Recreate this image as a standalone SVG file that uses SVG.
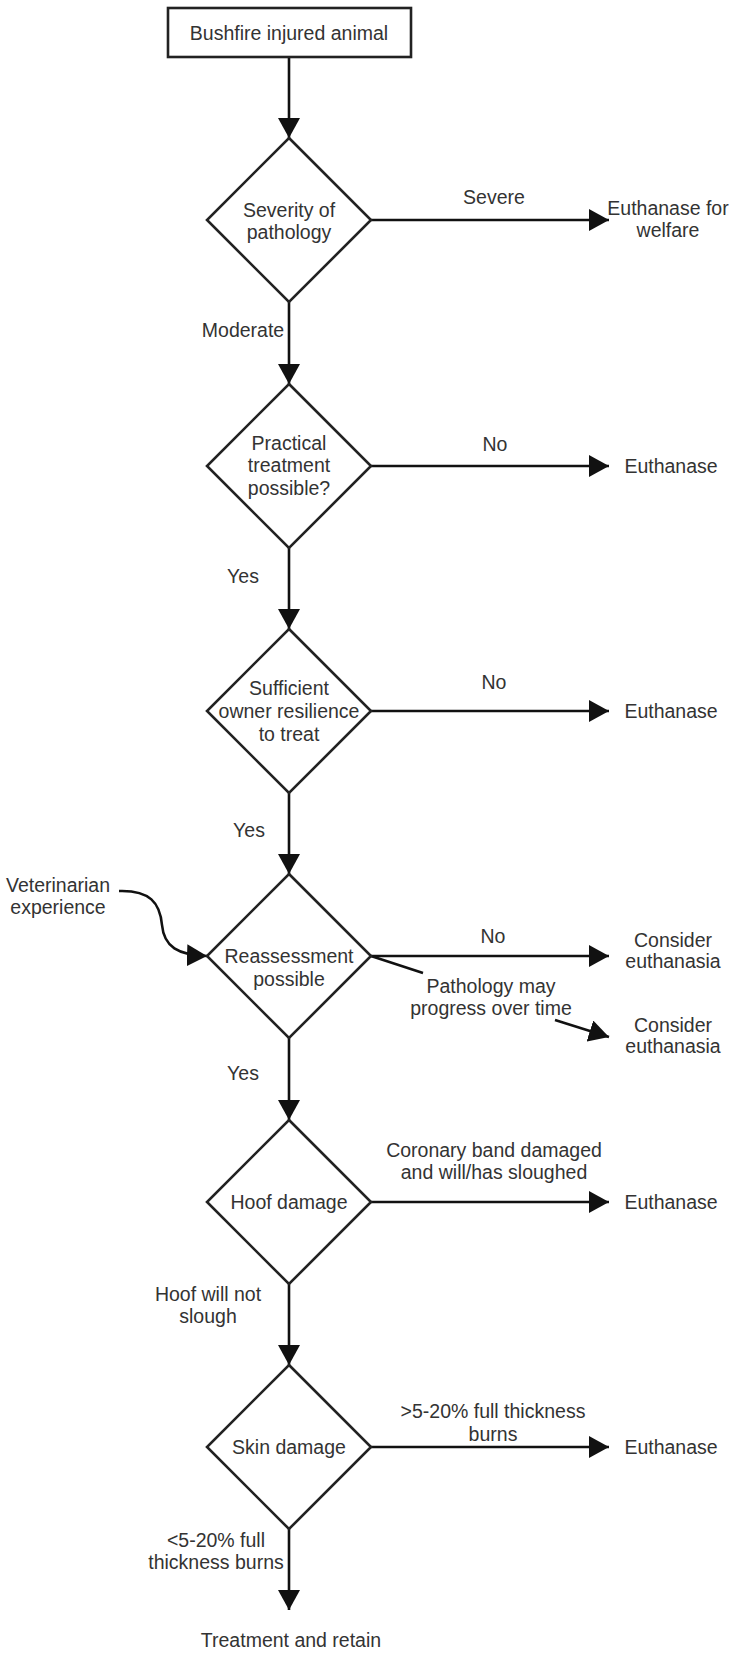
<svg xmlns="http://www.w3.org/2000/svg" width="738" height="1653" viewBox="0 0 738 1653">
<style>
.shape{fill:#ffffff;stroke:#222;stroke-width:2.6}
.edge{fill:none;stroke:#111;stroke-width:2.6}
text{font-family:"Liberation Sans",Arial,sans-serif;font-size:19.5px;fill:#333;text-anchor:middle}
</style>
<defs>
<marker id="arrow" markerUnits="userSpaceOnUse" markerWidth="22" markerHeight="22" refX="20" refY="11" orient="auto">
<path d="M0,0 L20,11 L0,22 Z" fill="#111"/>
</marker>
</defs>
<rect width="738" height="1653" fill="#ffffff"/>
<g id="connectors">
<path class="edge" d="M289,57 L289,138" marker-end="url(#arrow)"/>
<path class="edge" d="M289,302 L289,384" marker-end="url(#arrow)"/>
<path class="edge" d="M289,548 L289,629" marker-end="url(#arrow)"/>
<path class="edge" d="M289,793 L289,874" marker-end="url(#arrow)"/>
<path class="edge" d="M289,1038 L289,1120" marker-end="url(#arrow)"/>
<path class="edge" d="M289,1284 L289,1365" marker-end="url(#arrow)"/>
<path class="edge" d="M289,1529 L289,1610" marker-end="url(#arrow)"/>
<path class="edge" d="M371,220 L609,220" marker-end="url(#arrow)"/>
<path class="edge" d="M371,466 L609,466" marker-end="url(#arrow)"/>
<path class="edge" d="M371,711 L609,711" marker-end="url(#arrow)"/>
<path class="edge" d="M371,956 L609,956" marker-end="url(#arrow)"/>
<path class="edge" d="M371,1202 L609,1202" marker-end="url(#arrow)"/>
<path class="edge" d="M371,1447 L609,1447" marker-end="url(#arrow)"/>
<path class="edge" d="M371,956 L423,973"/>
<path class="edge" d="M555,1020 L609,1037" marker-end="url(#arrow)"/>
<path class="edge" d="M119,891 C150,890 160,903 162,925 C164,947 178,955 207,956" marker-end="url(#arrow)"/>
<text x="494" y="204">Severe</text>
<text x="243" y="337">Moderate</text>
<text x="495" y="451">No</text>
<text x="243" y="583">Yes</text>
<text x="494" y="689">No</text>
<text x="249" y="837">Yes</text>
<text x="493" y="943">No</text>
<text x="491" y="993">Pathology may</text>
<text x="491" y="1015">progress over time</text>
<text x="243" y="1080">Yes</text>
<text x="494" y="1157">Coronary band damaged</text>
<text x="494" y="1179">and will/has sloughed</text>
<text x="208" y="1301">Hoof will not</text>
<text x="208" y="1323">slough</text>
<text x="493" y="1418">&gt;5-20% full thickness</text>
<text x="493" y="1441">burns</text>
<text x="216" y="1547">&lt;5-20% full</text>
<text x="216" y="1569">thickness burns</text>
</g>
<g id="start">
<rect class="shape" x="168" y="8" width="243" height="49"/>
<text x="289" y="39.5">Bushfire injured animal</text>
</g>
<g id="severity">
<polygon class="shape" points="289,138 371,220 289,302 207,220"/>
<text x="289" y="216.5">Severity of</text>
<text x="289" y="239">pathology</text>
</g>
<g id="euth-welfare">
<text x="668" y="215">Euthanase for</text>
<text x="668" y="237">welfare</text>
</g>
<g id="practical">
<polygon class="shape" points="289,384 371,466 289,548 207,466"/>
<text x="289" y="449.5">Practical</text>
<text x="289" y="472">treatment</text>
<text x="289" y="494.5">possible?</text>
</g>
<g id="euth-1">
<text x="671" y="473">Euthanase</text>
</g>
<g id="resilience">
<polygon class="shape" points="289,629 371,711 289,793 207,711"/>
<text x="289" y="694.5">Sufficient</text>
<text x="289" y="717.5">owner resilience</text>
<text x="289" y="740.5">to treat</text>
</g>
<g id="euth-2">
<text x="671" y="718">Euthanase</text>
</g>
<g id="vet-experience">
<text x="58" y="892">Veterinarian</text>
<text x="58" y="914">experience</text>
</g>
<g id="reassessment">
<polygon class="shape" points="289,874 371,956 289,1038 207,956"/>
<text x="289" y="963">Reassessment</text>
<text x="289" y="985.5">possible</text>
</g>
<g id="consider-1">
<text x="673" y="947">Consider</text>
<text x="673" y="968">euthanasia</text>
</g>
<g id="consider-2">
<text x="673" y="1032">Consider</text>
<text x="673" y="1053">euthanasia</text>
</g>
<g id="hoof">
<polygon class="shape" points="289,1120 371,1202 289,1284 207,1202"/>
<text x="289" y="1208.5">Hoof damage</text>
</g>
<g id="euth-3">
<text x="671" y="1208.5">Euthanase</text>
</g>
<g id="skin">
<polygon class="shape" points="289,1365 371,1447 289,1529 207,1447"/>
<text x="289" y="1453.5">Skin damage</text>
</g>
<g id="euth-4">
<text x="671" y="1453.5">Euthanase</text>
</g>
<g id="treat">
<text x="291" y="1647">Treatment and retain</text>
</g>
</svg>
